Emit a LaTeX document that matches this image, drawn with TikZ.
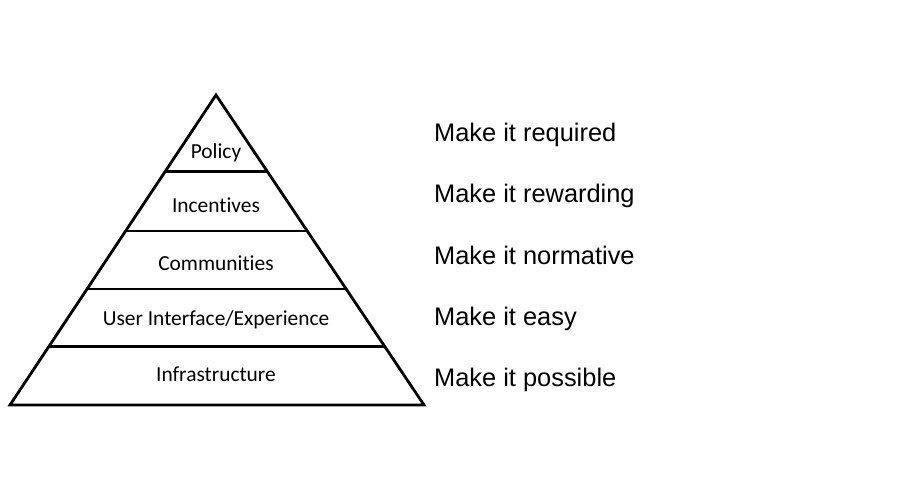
\documentclass[tikz,border=0pt]{standalone}
\usepackage{fontspec}
\setmainfont{Liberation Sans}
\newfontfamily\layerfont[Ligatures=NoCommon]{Carlito}
\usetikzlibrary{calc}
\begin{document}
\begin{tikzpicture}[x=1pt,y=-1pt,
  edge/.style={line width=2.8pt,line join=miter,black},
  layer/.style={font=\layerfont\fontsize{21.4}{24}\selectfont,anchor=base,inner sep=0pt},
  slogan/.style={font=\fontsize{25.4}{28}\selectfont,anchor=base west,inner sep=0pt}]
  \useasboundingbox (0,0) rectangle (900,500);
  % pyramid outline
  \coordinate (apex) at (216,95);
  \coordinate (bl) at (10,405);
  \coordinate (br) at (424,405);
  \draw[edge] (apex) -- (br) -- (bl) -- cycle;
  % dividing lines between layers
  \foreach \t [count=\i] in {0.248,0.439,0.626,0.810}{
    \draw[edge] ($(apex)!\t!(bl)$) -- ($(apex)!\t!(br)$);
  }
  % layer labels
  \node[layer] (policy) at (216,159) {Policy};
  \node[layer] (incent) at (216,212) {Incentives};
  \node[layer] (comm) at (216,270) {Communities};
  \node[layer] (uix) at (216,325) {User Interface/Experience};
  \node[layer] (infra) at (216,381) {Infrastructure};
  % slogans
  \node[slogan] (s1) at (434,142) {Make it required};
  \node[slogan] (s2) at (434,203) {Make it rewarding};
  \node[slogan] (s3) at (434,264) {Make it normative};
  \node[slogan] (s4) at (434,325) {Make it easy};
  \node[slogan] (s5) at (434,386) {Make it possible};
\end{tikzpicture}
\end{document}
